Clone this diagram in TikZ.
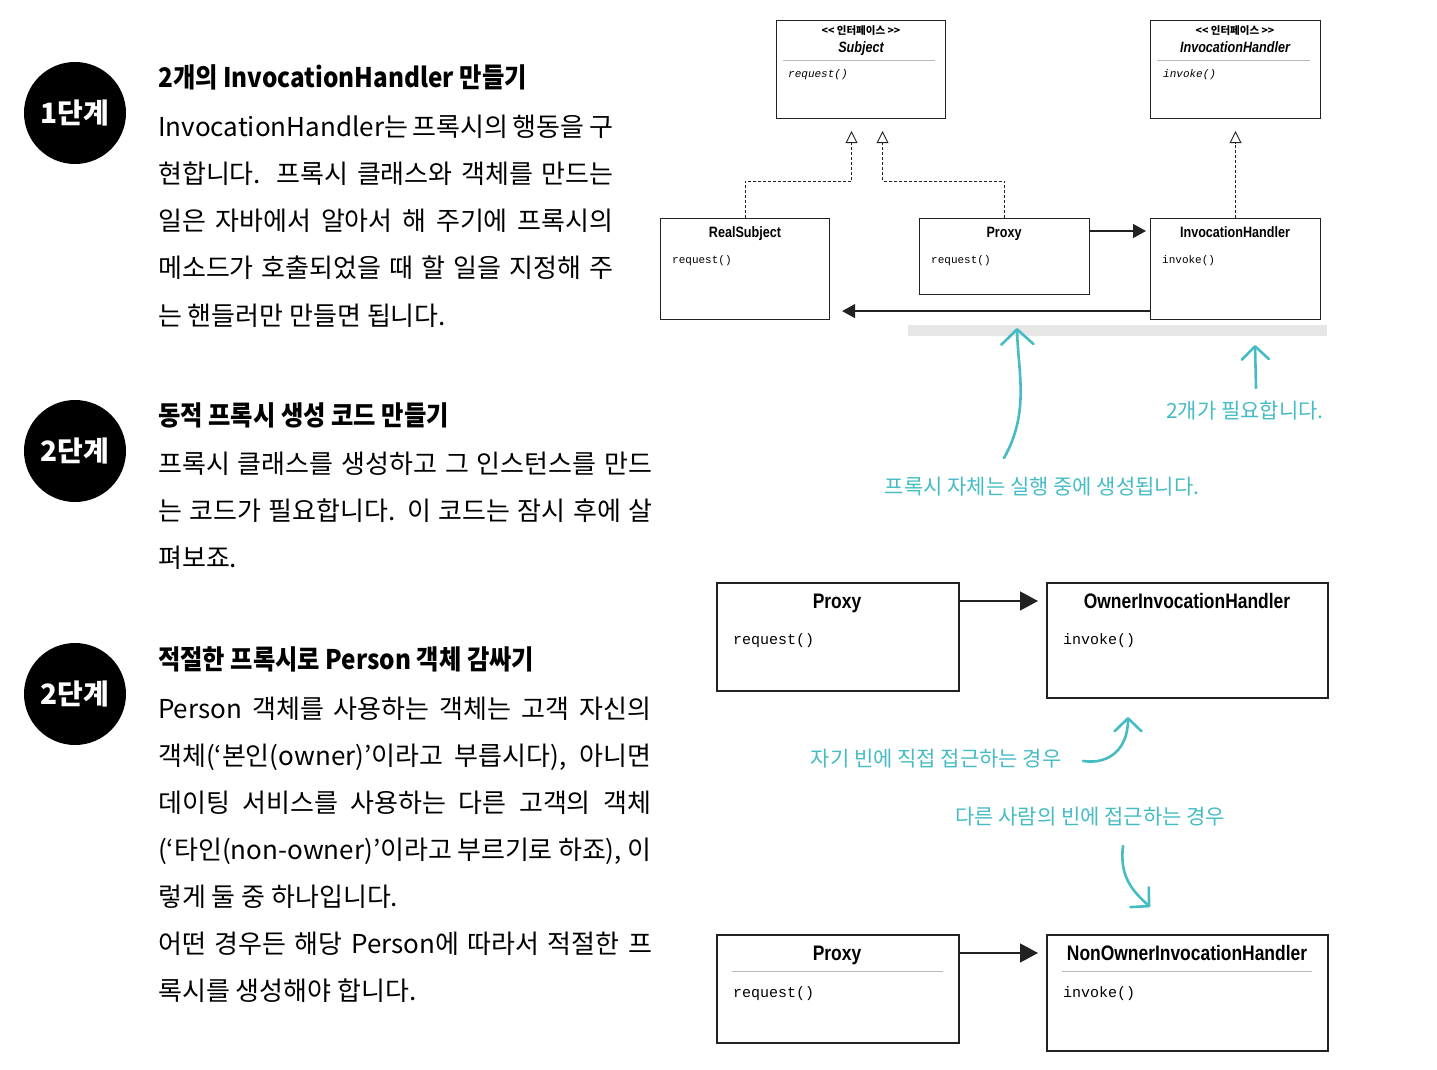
\documentclass[tikz,border=0pt]{standalone}
\usepackage{fontspec}
\usepackage{graphicx}
\usetikzlibrary{arrows.meta}
\setmainfont{Noto Sans CJK KR}
\newfontfamily\kr{Noto Sans CJK KR}
\newfontfamily\umlf{Liberation Sans}
\newfontfamily\codef{Liberation Mono}
\definecolor{note}{HTML}{45BCC4}
\definecolor{barcol}{HTML}{E6E6E6}
\definecolor{edge}{HTML}{222222}
\newcommand{\narrowtitle}[1]{\scalebox{0.84}[1]{#1}}
\newcommand{\widetitle}[1]{\scalebox{0.83}[1]{#1}}
\newcommand{\headtxt}[1]{\scalebox{0.9}[1]{#1}}

\tikzset{
  badge/.style={circle, fill=black, minimum size=102pt, inner sep=0pt, text=white,
    font=\kr\bfseries\fontsize{28}{30}\selectfont},
  head/.style={anchor=base west, inner sep=0pt, font=\kr\bfseries\fontsize{27}{30}\selectfont},
  body/.style={anchor=base west, inner sep=0pt, font=\kr\fontsize{26}{30}\selectfont},
  umlbox/.style={draw=edge, line width=1.1pt, fill=white, inner sep=0pt, anchor=north west},
  bigbox/.style={draw=edge, line width=1.6pt, fill=white, inner sep=0pt, anchor=north west},
  stereo/.style={anchor=base, inner sep=0pt, font=\kr\bfseries\fontsize{10.5}{12}\selectfont},
  ititle/.style={anchor=base, inner sep=0pt, font=\umlf\bfseries\itshape\fontsize{15}{18}\selectfont},
  stitle/.style={anchor=base, inner sep=0pt, font=\umlf\bfseries\fontsize{15}{18}\selectfont},
  btitle/.style={anchor=base, inner sep=0pt, font=\umlf\bfseries\fontsize{21}{24}\selectfont},
  iop/.style={anchor=base west, inner sep=0pt, font=\codef\itshape\fontsize{11}{13}\selectfont},
  sop/.style={anchor=base west, inner sep=0pt, font=\codef\fontsize{11}{13}\selectfont},
  bop/.style={anchor=base west, inner sep=0pt, font=\codef\fontsize{15}{18}\selectfont},
  sepline/.style={draw=gray!55, line width=0.7pt},
  realize/.style={draw=edge, line width=0.9pt, dash pattern=on 3pt off 2pt,
    -{Triangle[length=12pt, width=12pt, fill=white, line width=0.9pt]}, shorten >=12pt},
  assoc/.style={draw=edge, line width=1.3pt, -{Triangle[length=13pt, width=14pt]}},
  bigassoc/.style={draw=edge, line width=1.6pt, -{Triangle[length=18pt, width=19pt]}},
  notetext/.style={anchor=base, inner sep=0pt, text=note, font=\kr\fontsize{21}{24}\selectfont},
  hand/.style={draw=note, line width=2.6pt, line cap=round, line join=round,
    -{Straight Barb[length=15pt, width=32pt, line cap=round, line join=round]}},
  handsmall/.style={draw=note, line width=2.6pt, line cap=round, line join=round,
    -{Straight Barb[length=13pt, width=27pt, line cap=round, line join=round]}},
}

\begin{document}
\begin{tikzpicture}[x=1pt, y=-1pt]
\useasboundingbox (0,0) rectangle (1437,1070);

% ---------- step badges ----------
\node[badge] (b1) at (75,113) {1단계};
\node[badge] (b2) at (75,451) {2단계};
\node[badge] (b3) at (75,694) {2단계};

% ---------- step 1 ----------
\node[head] (h1) at (158,88) {\headtxt{2개의 InvocationHandler 만들기}};
\node[body] (t11) at (158,136) {\makebox[455pt][s]{InvocationHandler는 프록시의 행동을 구}};
\node[body] (t12) at (158,183) {\makebox[455pt][s]{현합니다. 프록시 클래스와 객체를 만드는}};
\node[body] (t13) at (158,230) {\makebox[455pt][s]{일은 자바에서 알아서 해 주기에 프록시의}};
\node[body] (t14) at (158,277) {\makebox[455pt][s]{메소드가 호출되었을 때 할 일을 지정해 주}};
\node[body] (t15) at (158,325) {는 핸들러만 만들면 됩니다.};

% ---------- step 2 ----------
\node[head] (h2) at (158,425) {\headtxt{동적 프록시 생성 코드 만들기}};
\node[body] (t21) at (158,473) {\makebox[494pt][s]{프록시 클래스를 생성하고 그 인스턴스를 만드}};
\node[body] (t22) at (158,520) {\makebox[494pt][s]{는 코드가 필요합니다. 이 코드는 잠시 후에 살}};
\node[body] (t23) at (158,567) {펴보죠.};

% ---------- step 3 ----------
\node[head] (h3) at (158,669) {\headtxt{적절한 프록시로 Person 객체 감싸기}};
\node[body] (t31) at (158,718) {\makebox[493pt][s]{Person 객체를 사용하는 객체는 고객 자신의}};
\node[body] (t32) at (158,765) {\makebox[493pt][s]{객체(‘본인(owner)’이라고 부릅시다), 아니면}};
\node[body] (t33) at (158,812) {\makebox[493pt][s]{데이팅 서비스를 사용하는 다른 고객의 객체}};
\node[body] (t34) at (158,859) {\makebox[493pt][s]{(‘타인(non-owner)’이라고 부르기로 하죠), 이}};
\node[body] (t35) at (158,906) {렇게 둘 중 하나입니다.};
\node[body] (t36) at (158,953) {\makebox[494pt][s]{어떤 경우든 해당 Person에 따라서 적절한 프}};
\node[body] (t37) at (158,1000) {록시를 생성해야 합니다.};

% ---------- class diagram: interfaces ----------
\node[umlbox, minimum width=169pt, minimum height=98pt] (subj) at (776,20) {};
\node[stereo] (subjst) at (861,35) {<< 인터페이스 >>};
\node[ititle] (subjnm) at (861,53) {\narrowtitle{Subject}};
\draw[sepline] (783,60) -- (935,60);
\node[iop] (subjop) at (788,78) {request()};

\node[umlbox, minimum width=170pt, minimum height=98pt] (ihi) at (1150,20) {};
\node[stereo] (ihist) at (1235,35) {<< 인터페이스 >>};
\node[ititle] (ihinm) at (1235,53) {\narrowtitle{InvocationHandler}};
\draw[sepline] (1157,60) -- (1310,60);
\node[iop] (ihiop) at (1163,78) {invoke()};

% ---------- class diagram: classes ----------
\node[umlbox, minimum width=169pt, minimum height=101pt] (rs) at (660,218) {};
\node[stitle] (rsnm) at (745,237) {\narrowtitle{RealSubject}};
\node[sop] (rsop) at (672,263) {request()};

\node[umlbox, minimum width=170pt, minimum height=76pt] (px) at (919,218) {};
\node[stitle] (pxnm) at (1004,237) {\narrowtitle{Proxy}};
\node[sop] (pxop) at (931,263) {request()};

\node[umlbox, minimum width=170pt, minimum height=101pt] (ih) at (1150,218) {};
\node[stitle] (ihnm) at (1235,237) {\narrowtitle{InvocationHandler}};
\node[sop] (ihop) at (1162,263) {invoke()};

% realizations
\draw[realize] (rs.north) -- ++(0,-37) -| ([xshift=-9.5pt]subj.south);
\draw[realize] (px.north) -- ++(0,-37) -| ([xshift=21.5pt]subj.south);
\draw[realize] (ih.north) -- (ihi.south);

% associations
\draw[assoc, shorten >=4pt] ([yshift=-13pt]px.north east) -- ([yshift=-13pt]ih.north west);
\draw[assoc, shorten >=12pt] ([yshift=9pt]ih.south west) -- ([yshift=9pt]rs.south east);

% runtime band
\node[fill=barcol, inner sep=0pt, anchor=north west, minimum width=419pt, minimum height=11pt] (band) at (908,325) {};

% ---------- notes ----------
\node[notetext] (n1) at (1042,494) {프록시 자체는 실행 중에 생성됩니다.};
\node[notetext] (n2) at (1245,418) {2개가 필요합니다.};
\coordinate (a1s) at (1004,458);
\coordinate (a1e) at (1017,328);
\draw[hand] (a1s) .. controls (1030,412) and (1018,372) .. (a1e);
\coordinate (a2s) at (1256,388);
\coordinate (a2e) at (1255,345);
\draw[handsmall] (a2s) -- (a2e);

% ---------- owner / non-owner ----------
\node[bigbox, minimum width=242pt, minimum height=108pt] (p1) at (716,582) {};
\node[btitle] (p1nm) at (837,608.5) {\widetitle{Proxy}};
\node[bop] (p1op) at (733,644) {request()};

\node[bigbox, minimum width=281pt, minimum height=115pt] (o1) at (1046,582) {};
\node[btitle] (o1nm) at (1187,608.5) {\widetitle{OwnerInvocationHandler}};
\node[bop] (o1op) at (1063,644) {invoke()};

\draw[bigassoc, shorten >=8pt] ([yshift=-19pt]p1.north east) -- ([yshift=-19pt]o1.north west);

\node[bigbox, minimum width=242pt, minimum height=108pt] (p2) at (716,934) {};
\node[btitle] (p2nm) at (837,960.5) {\widetitle{Proxy}};
\draw[sepline] (732,971) -- (943,971);
\node[bop] (p2op) at (733,997) {request()};

\node[bigbox, minimum width=281pt, minimum height=116pt] (o2) at (1046,934) {};
\node[btitle] (o2nm) at (1187,960.5) {\widetitle{NonOwnerInvocationHandler}};
\draw[sepline] (1062,971) -- (1312,971);
\node[bop] (o2op) at (1063,997) {invoke()};

\draw[bigassoc, shorten >=8pt] ([yshift=-19pt]p2.north east) -- ([yshift=-19pt]o2.north west);

\node[notetext] (n3) at (936,766) {자기 빈에 직접 접근하는 경우};
\node[notetext] (n4) at (1090,824) {다른 사람의 빈에 접근하는 경우};
\coordinate (a3s) at (1083,761);
\coordinate (a3e) at (1128,717);
\draw[handsmall] (a3s) .. controls (1110,765) and (1128,748) .. (a3e);
\coordinate (a4s) at (1123,846);
\coordinate (a4e) at (1150,907);
\draw[handsmall] (a4s) .. controls (1119,878) and (1134,892) .. (a4e);
\end{tikzpicture}
\end{document}
